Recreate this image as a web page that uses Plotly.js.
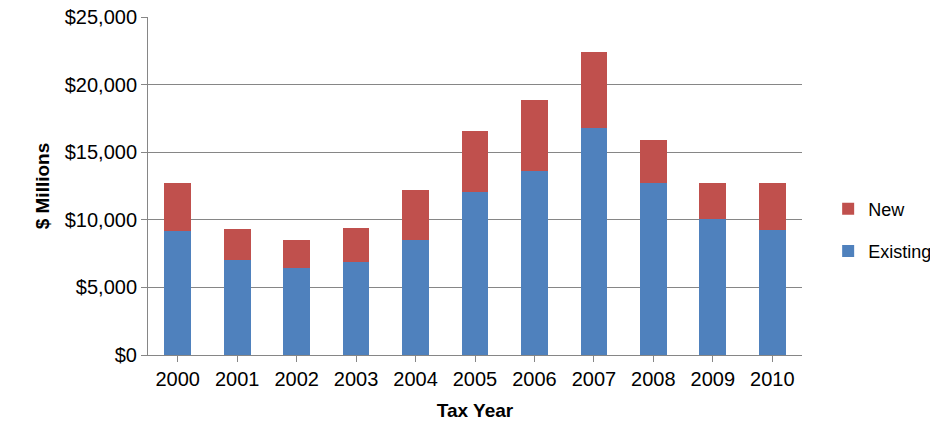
<!DOCTYPE html>
<html>
<head>
<script src="https://cdn.plot.ly/plotly-3.0.1.min.js"></script>
<style>body{margin:0}</style>
</head>
<body>
<div id="chart" style="width:930px;height:438px"></div>
<script>
var years = ['2000', '2001', '2002', '2003', '2004', '2005', '2006', '2007', '2008', '2009', '2010'];
var existing = [9200, 7000, 6400, 6900, 8500, 12050, 13600, 16800, 12700, 10050, 9250];
var newVals = [3500, 2300, 2100, 2500, 3700, 4520, 5260, 5600, 3200, 2650, 3450];

var data = [
    {x: years, y: existing, type: 'bar', name: 'Existing', legendgroup: 'b', legendrank: 2, marker: {color: '#4F81BD'}},
    {x: years, y: newVals, type: 'bar', name: 'New', legendgroup: 'a', legendrank: 1, marker: {color: '#C0504D'}}
];

var layout = {
    barmode: 'stack',
    bargap: 0.55,
    font: {family: 'Liberation Sans', size: 19, color: '#000'},
    margin: {l: 148, r: 128, t: 17, b: 83, autoexpand: false},
    showlegend: true,
    legend: {traceorder: 'grouped', x: 1.04, y: 0.37, yanchor: 'middle', font: {size: 18}, tracegroupgap: 16},
    xaxis: {
        type: 'category',
        title: {text: '<b>Tax Year</b>', font: {size: 19}, standoff: 14},
        tickfont: {size: 20},
        showline: true, linecolor: '#868686', ticks: 'outside', ticklen: 6, tickcolor: '#868686'
    },
    yaxis: {
        title: {text: '<b>$ Millions</b>', font: {size: 19}, standoff: 10},
        tickfont: {size: 20},
        range: [0, 25000], dtick: 5000, tickprefix: '$', tickformat: ',d',
        showgrid: true, gridcolor: '#868686', showline: true, linecolor: '#868686',
        ticks: 'outside', ticklen: 6, tickcolor: '#868686', zeroline: false
    },
    plot_bgcolor: '#fff',
    paper_bgcolor: '#fff'
};

Plotly.newPlot('chart', data, layout, {displayModeBar: false});
</script>
</body>
</html>
